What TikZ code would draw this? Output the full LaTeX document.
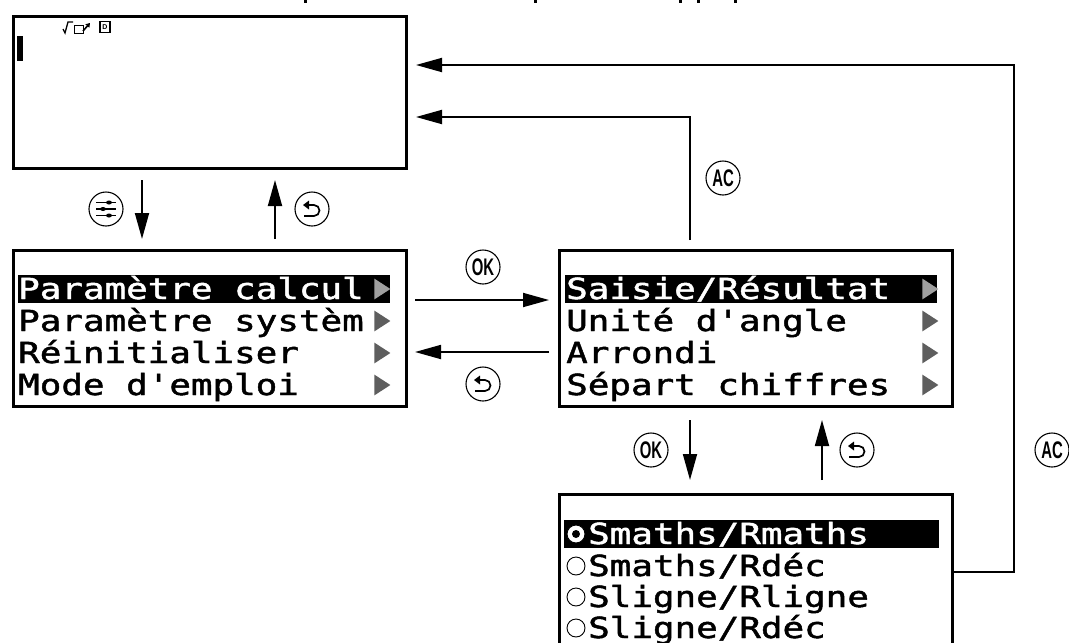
\documentclass[tikz,border=0pt]{standalone}
\usepackage{fontspec}
\setmainfont{Liberation Sans}
\setmonofont[FakeStretch=1.237,FakeBold=1.6]{DejaVu Sans Mono}
\newfontfamily\keyfont[FakeStretch=0.62]{Liberation Sans}
\usepackage{xcolor}
\usetikzlibrary{arrows.meta,positioning,shapes,calc}
\definecolor{ink}{HTML}{000000}
\definecolor{inkgray}{HTML}{5E5E5E}
\definecolor{inklight}{HTML}{A0A0A0}
\tikzset{
  screen/.style={draw=ink,fill=white,line width=3pt,inner sep=0pt,anchor=north west},
  menurow/.style={anchor=base west,inner sep=0pt,font=\fontsize{29}{29}\selectfont\ttfamily,text=ink},
  menusel/.style={menurow,text=white},
  selbar/.style={fill=ink,anchor=west,inner sep=0pt,minimum height=28pt},
  keybadge/.style={draw=ink,circle,line width=1.1pt,inner sep=0pt,minimum size=34pt,
                   font=\fontsize{24}{24}\selectfont\keyfont\bfseries},
  flowarr/.style={-{Triangle[length=26pt,width=14pt]},line width=1.8pt,color=ink},
  radio/.style={draw=ink,circle,line width=0.9pt,minimum size=18pt,inner sep=0pt,fill=white},
  tagarr/.style={fill=inkgray,draw=none,isosceles triangle,isosceles triangle apex angle=66,
                 inner sep=0pt,minimum height=16pt,minimum width=12pt,anchor=center},
  backglyph/.pic={
    \draw[line width=1.7pt] (-8,7) -- (2,7) arc (90:-90:5.5) -- (-3,-4);
    \fill (-9,-4) -- (-3,-8.5) -- (-3,0.5) -- cycle;
  },
  menuglyph/.pic={
    \foreach \yy/\xx in {-6.5/3,0/-3,6.5/3} {
      \draw[line width=1.6pt] (-10,\yy) -- (10,\yy);
      \fill (\xx,\yy) ellipse (3pt and 2pt);
    }
  }
}
\begin{document}
\begin{tikzpicture}[x=1pt,y=-1pt]
  \useasboundingbox (0,0) rectangle (1069,643);
  % cut-off line above the first screen
  \foreach \xx in {305,535,680,698,735} {
    \fill[ink] (\xx-1.5,0) rectangle (\xx+1.5,3);
  }

  % screens
  \node[screen,minimum width=393pt,minimum height=152pt] (home) at (12,14.5) {};
  \node[screen,minimum width=393pt,minimum height=156pt] (menu) at (12,249) {};
  \node[screen,minimum width=393pt,minimum height=156pt] (calc) at (558,249) {};
  \node[screen,minimum width=393pt,minimum height=170pt] (form) at (558,493) {};

  % home screen marks
  \node[fill=ink,minimum width=6pt,minimum height=25pt,inner sep=0pt,anchor=north west] (cursor) at (17,36) {};
  \draw[ink,line width=1.3pt] (63,29) -- (65,33) -- (68,22) -- (73,22);
  \draw[ink,line width=1pt] (74.5,25.5) rectangle (83,33);
  \draw[ink,line width=1.6pt,-{Triangle[length=4pt,width=5pt]}] (83,31) -- (90,23);
  \node[draw=ink,line width=1.5pt,minimum width=10pt,minimum height=11pt,inner sep=0pt,
        font=\fontsize{7}{7}\selectfont\bfseries] (dmark) at (105,27) {D};

  % first menu
  \node[selbar,minimum width=372pt] (menubar) at (18,289) {};
  \node[menusel] (m1) at (18,299) {Paramètre calcul};
  \node[menurow] (m2) at (18,331) {Paramètre systèm};
  \node[menurow] (m3) at (18,363) {Réinitialiser};
  \node[menurow] (m4) at (18,395) {Mode d'emploi};

  % second menu
  \node[selbar,minimum width=372pt] (calcbar) at (565,289) {};
  \node[menusel] (c1) at (566,299) {Saisie/Résultat};
  \node[menurow] (c2) at (566,331) {Unité d'angle};
  \node[menurow] (c3) at (566,363) {Arrondi};
  \node[menurow] (c4) at (566,395) {Sépart chiffres};

  % third menu
  \node[selbar,minimum width=375pt] (formbar) at (564,534) {};
  \node[menusel] (f1) at (588,544) {Smaths/Rmaths};
  \node[menurow] (f2) at (588,576) {Smaths/Rdéc};
  \node[menurow] (f3) at (588,607) {Sligne/Rligne};
  \node[menurow] (f4) at (588,638) {Sligne/Rdéc};
  \foreach \yy/\nm in {534/fa,566/fb,597/fc,628/fd} {
    \node[radio] (\nm) at (576,\yy) {};
  }
  \fill[ink] (fa) circle (4pt);

  % arrow tags
  \foreach \xx/\yy/\nm in {380/321/tb,380/353/tc,380/385/td,928/321/tf,928/353/tg,928/385/th} {
    \node[tagarr] (\nm) at (\xx,\yy) {};
  }
  \node[tagarr,fill=inklight] (ta) at (380,289) {};
  \node[tagarr,fill=inklight] (te) at (928,289) {};

  % connectors
  \coordinate (a1s) at (142,180);
  \coordinate (a1e) at (142,239);
  \coordinate (a2s) at (275,239);
  \coordinate (a2e) at (275,180);
  \draw[flowarr] (a1s) -- (a1e);
  \draw[flowarr] (a2s) -- (a2e);
  \coordinate (b1s) at (415,300);
  \coordinate (b1e) at (549,300);
  \coordinate (b2s) at (549,352);
  \coordinate (b2e) at (415,352);
  \draw[flowarr] (b1s) -- (b1e);
  \draw[flowarr] (b2s) -- (b2e);
  \coordinate (d1s) at (690,420);
  \coordinate (d1e) at (690,480);
  \coordinate (d2s) at (822,480);
  \coordinate (d2e) at (822,420);
  \draw[flowarr] (d1s) -- (d1e);
  \draw[flowarr] (d2s) -- (d2e);
  \coordinate (e1s) at (690,240);
  \coordinate (e1k) at (690,117);
  \coordinate (e1e) at (416,117);
  \draw[flowarr] (e1s) -- (e1k) -- (e1e);
  \coordinate (e2s) at (951,572);
  \coordinate (e2a) at (1014,572);
  \coordinate (e2b) at (1014,65);
  \coordinate (e2e) at (416,65);
  \draw[flowarr] (e2s) -- (e2a) -- (e2b) -- (e2e);

  % key badges
  \node[keybadge] (kmenu) at (106,209) {};
  \pic at (kmenu) {menuglyph};
  \node[keybadge] (kback) at (312,209) {};
  \pic at (kback) {backglyph};
  \node[keybadge] (kok) at (483,267) {OK};
  \node[keybadge] (kret) at (483,384) {};
  \pic at (kret) {backglyph};
  \node[keybadge] (kac) at (723,178) {AC};
  \node[keybadge] (kok2) at (651,450) {OK};
  \node[keybadge] (kret2) at (857,450) {};
  \pic at (kret2) {backglyph};
  \node[keybadge] (kac2) at (1052,450) {AC};
\end{tikzpicture}
\end{document}
